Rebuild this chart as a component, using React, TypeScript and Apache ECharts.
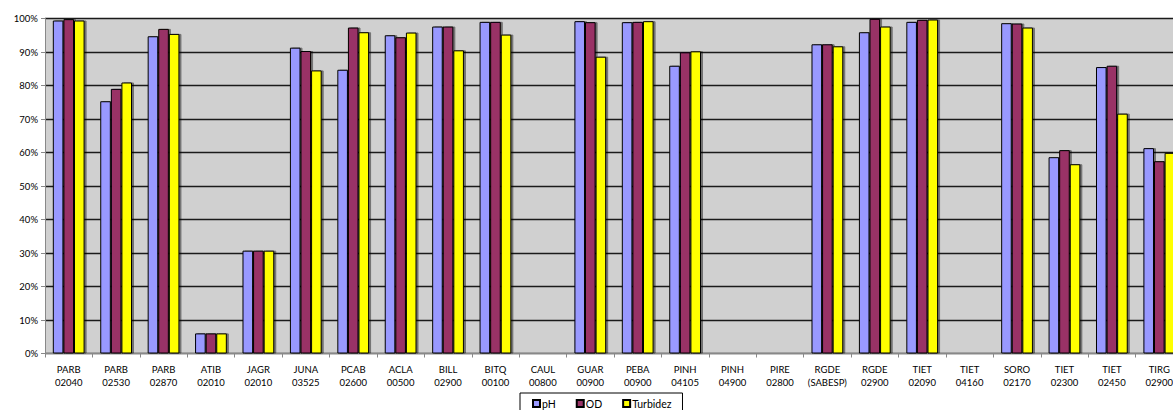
import React, { useEffect, useRef } from "react";
import * as echarts from "echarts";

const categories = [
  "PARB\n02040", "PARB\n02530", "PARB\n02870", "ATIB\n02010", "JAGR\n02010", "JUNA\n03525",
  "PCAB\n02600", "ACLA\n00500", "BILL\n02900", "BITQ\n00100", "CAUL\n00800", "GUAR\n00900",
  "PEBA\n00900", "PINH\n04105", "PINH\n04900", "PIRE\n02800", "RGDE\n(SABESP)", "RGDE\n02900",
  "TIET\n02090", "TIET\n04160", "SORO\n02170", "TIET\n02300", "TIET\n02450", "TIRG\n02900",
];

const phValues = [99.4, 75.3, 94.7, 6.0, 30.7, 91.3, 84.7, 95.0, 97.6, 99.0, null, 99.2, 98.9, 85.9, null, null, 92.3, 95.9, 99.0, null, 98.6, 58.6, 85.5, 61.3];
const odValues = [99.8, 79.0, 96.9, 6.0, 30.7, 90.3, 97.3, 94.4, 97.6, 99.0, null, 98.9, 99.0, 89.9, null, null, 92.3, 99.9, 99.6, null, 98.5, 60.7, 85.9, 57.4];
const turbValues = [99.4, 80.9, 95.4, 6.0, 30.7, 84.5, 95.9, 95.8, 90.5, 95.2, null, 88.6, 99.2, 90.2, null, null, 91.7, 97.6, 99.7, null, 97.3, 56.5, 71.6, 59.9];

const seriesNames = ["pH", "OD", "Turbidez"];
const seriesColors = ["#9999FF", "#993366", "#FFFF00"];
const yTicks = { min: 0, max: 100, interval: 10 };

const FONT = "Lato";

export default function App() {
  const ref = useRef<HTMLDivElement>(null);
  useEffect(() => {
    if (!ref.current) return;
    const chart = echarts.init(ref.current, null, { renderer: "svg" });
    const allValues = [phValues, odValues, turbValues];
    chart.setOption({
      animation: false,
      backgroundColor: "#FFFFFF",
      grid: {
        left: 45,
        top: 18.5,
        bottom: 56.5,
        right: 0,
        show: true,
        backgroundColor: "#D0D0D0",
        borderWidth: 0,
      },
      legend: {
        left: 520,
        top: 393,
        padding: [5, 11, 8, 12],
        itemWidth: 7,
        itemHeight: 7,
        itemGap: 20,
        borderColor: "#000",
        borderWidth: 1,
        icon: "rect",
        textStyle: { fontFamily: FONT, fontSize: 10.5, color: "#000", padding: [0, 0, 0, -3] },
        data: seriesNames,
      },
      xAxis: {
        type: "category",
        data: categories,
        axisLine: { show: true, lineStyle: { color: "#888", width: 1 } },
        axisTick: { show: true, alignWithLabel: false, length: 4, lineStyle: { color: "#888" } },
        axisLabel: {
          interval: 0,
          fontFamily: FONT,
          fontSize: 9.5,
          color: "#000",
          lineHeight: 13,
          margin: 9,
        },
        splitLine: { show: false },
      },
      yAxis: {
        type: "value",
        min: yTicks.min,
        max: yTicks.max,
        interval: yTicks.interval,
        axisLine: { show: true, lineStyle: { color: "#888", width: 1 } },
        axisTick: { show: true, length: 4, lineStyle: { color: "#888" } },
        axisLabel: {
          formatter: "{value}%",
          fontFamily: FONT,
          fontSize: 9.5,
          color: "#000",
          margin: 7,
        },
        splitLine: { show: true, lineStyle: { color: "#1a1a1a", width: 1.3 } },
      },
      series: seriesNames.map((name, i) => ({
        name,
        type: "bar",
        data: allValues[i],
        barGap: "0%",
        barCategoryGap: "33%",
        itemStyle: {
          color: seriesColors[i],
          borderColor: "#000",
          borderWidth: 1,
          shadowColor: "rgba(0,0,0,0.45)",
          shadowOffsetX: 2,
          shadowOffsetY: 0,
          shadowBlur: 1,
        },
      })),
    });
    return () => chart.dispose();
  }, []);
  return (
    <div
      ref={ref}
      style={{ position: "fixed", left: 0, top: 0, width: 1183, height: 410 }}
    />
  );
}
